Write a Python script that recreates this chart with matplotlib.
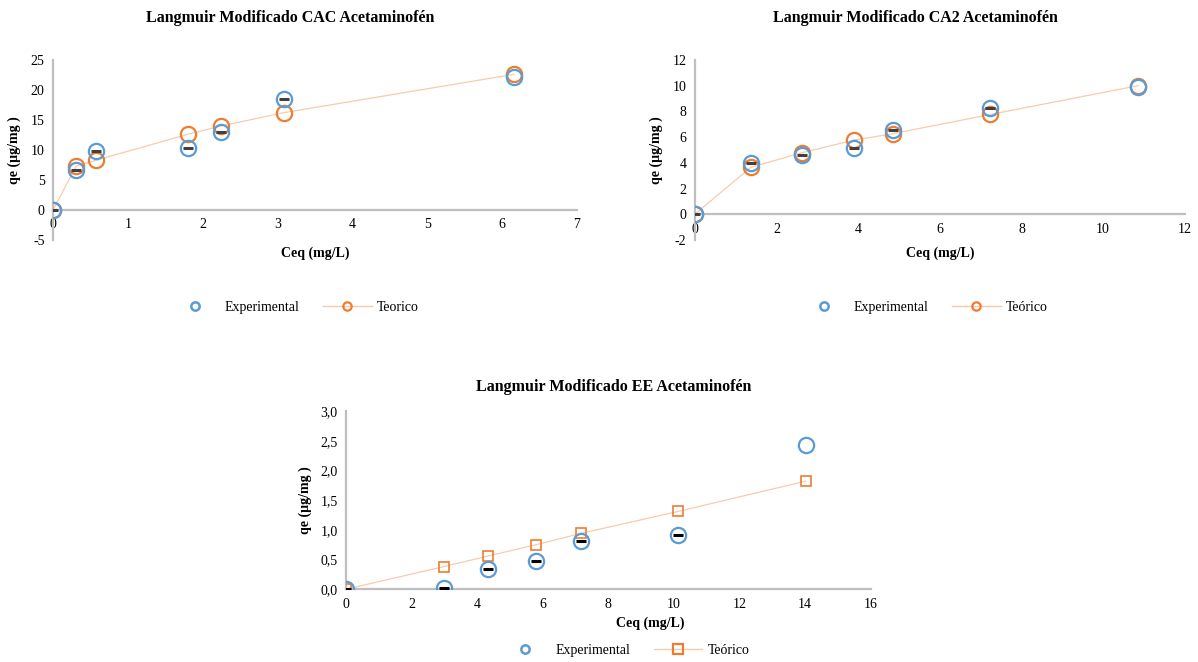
import matplotlib
matplotlib.use("Agg")
import matplotlib.pyplot as plt
from matplotlib.lines import Line2D
from matplotlib.ticker import FuncFormatter

plt.rcParams['font.family'] = ['Liberation Serif', 'DejaVu Serif']
plt.rcParams['axes.unicode_minus'] = False

# --- datos: Langmuir Modificado CAC ---
cac_ceq = [0, 0.31, 0.58, 1.80, 2.25, 3.08, 6.16]
cac_exp = [0, 6.6, 9.8, 10.4, 13.0, 18.5, 22.2]
cac_teo = [0, 7.3, 8.3, 12.6, 14.0, 16.2, 22.6]

# --- datos: Langmuir Modificado CA2 ---
ca2_ceq = [0, 1.37, 2.62, 3.89, 4.86, 7.24, 10.86]
ca2_exp = [0, 3.96, 4.63, 5.14, 6.56, 8.23, 9.87]
ca2_teo = [0, 3.65, 4.78, 5.76, 6.27, 7.76, 10.0]

# --- datos: Langmuir Modificado EE ---
ee_ceq = [0, 2.98, 4.34, 5.80, 7.17, 10.13, 14.02]
ee_exp = [0, 0.02, 0.34, 0.48, 0.81, 0.91, 2.43]
ee_teo = [0, 0.38, 0.56, 0.75, 0.94, 1.31, 1.82]

BLUE = '#5B9BD5'
ORANGE = '#ED7D31'
LINE = '#F8CBAD'
GRAY = '#BFBFBF'
FS = 10

fig = plt.figure(figsize=(11.98, 6.62), dpi=100)

def panel(rect, ceq, exp, teo, xlim, ylim, xstep, ystep, teo_marker, dash_col,
          xlab_pos, ylab_x, fmt=None):
    ax = fig.add_axes(rect)
    ax.plot(ceq, teo, color=LINE, lw=0.9, zorder=2)
    if teo_marker == 'o':
        ax.plot(ceq, teo, 'o', ms=11, mfc='none', mec=ORANGE, mew=1.6, zorder=3)
    else:
        ax.plot(ceq, teo, 's', ms=7, mfc='none', mec=ORANGE, mew=1.2, zorder=3)
    ax.plot(ceq, exp, 'o', ms=11, mfc='none', mec=BLUE, mew=1.6, zorder=4)
    # guion oscuro dentro de los puntos experimentales (menos el ultimo)
    ax.plot(ceq[:-1], exp[:-1], '_', ms=7, mew=2.2, color=dash_col, zorder=5)
    ax.set_xlim(*xlim); ax.set_ylim(*ylim)
    ax.set_xticks([xlim[0] + i*xstep for i in range(int(round((xlim[1]-xlim[0])/xstep))+1)])
    ax.set_yticks([ylim[0] + i*ystep for i in range(int(round((ylim[1]-ylim[0])/ystep))+1)])
    if fmt:
        ax.yaxis.set_major_formatter(FuncFormatter(fmt))
    ax.spines['bottom'].set_position(('data', 0))
    ax.spines['left'].set_position(('data', 0))
    for s in ('top', 'right'):
        ax.spines[s].set_visible(False)
    for s in ('bottom', 'left'):
        ax.spines[s].set_color(GRAY); ax.spines[s].set_linewidth(1.6)
    ax.tick_params(length=0, labelsize=FS, colors='#000000')
    ax.tick_params(axis='x', pad=6)
    ax.tick_params(axis='y', pad=6)
    ax.text(xlab_pos[0], xlab_pos[1], 'Ceq (mg/L)', transform=ax.transAxes,
            ha='center', va='center', fontsize=FS, fontweight='bold')
    ax.text(ylab_x, 0.5, 'qe (µg/mg )', transform=ax.transAxes, rotation=90,
            ha='center', va='center', fontsize=FS, fontweight='bold')
    ax.patch.set_alpha(0)
    return ax

panel([0.0442, 0.6375, 0.4374, 0.272], cac_ceq, cac_exp, cac_teo,
      (0, 7), (-5, 25), 1, 5, 'o', '#404040', (0.5, -0.072), -0.074)
panel([0.580, 0.6375, 0.409, 0.272], ca2_ceq, ca2_exp, ca2_teo,
      (0, 12), (-2, 12), 2, 2, 'o', '#404040', (0.5, -0.072), -0.078)
panel([0.2888, 0.110, 0.438, 0.269], ee_ceq, ee_exp, ee_teo,
      (0, 16), (0, 3.0), 2, 0.5, 's', '#000000', (0.58, -0.19), -0.078,
      fmt=lambda v, p: f"{v:.1f}".replace('.', ','))

fig.text(0.242, 0.973, 'Langmuir Modificado CAC Acetaminofén', ha='center', va='center',
         fontsize=11.5, fontweight='bold')
fig.text(0.764, 0.973, 'Langmuir Modificado CA2 Acetaminofén', ha='center', va='center',
         fontsize=11.5, fontweight='bold')
fig.text(0.512, 0.415, 'Langmuir Modificado EE Acetaminofén', ha='center', va='center',
         fontsize=11.5, fontweight='bold')

def leg(center, teo_label, mk):
    h_exp = Line2D([], [], ls='none', marker='o', ms=6, mfc='none', mec=BLUE, mew=1.8)
    h_teo = Line2D([], [], color=LINE, lw=1, marker=mk, ms=6 if mk == 'o' else 7,
                   mfc='none', mec=ORANGE, mew=1.6)
    fig.legend([h_exp, h_teo], ['Experimental', teo_label], loc='center',
               bbox_to_anchor=center, ncol=2, frameon=False, fontsize=FS,
               handlelength=3.5, handletextpad=0.4, columnspacing=1.7)

leg((0.246, 0.535), 'Teorico', 'o')
leg((0.771, 0.535), 'Teórico', 'o')
leg((0.522, 0.017), 'Teórico', 's')

fig.savefig('out.png', dpi=100)
